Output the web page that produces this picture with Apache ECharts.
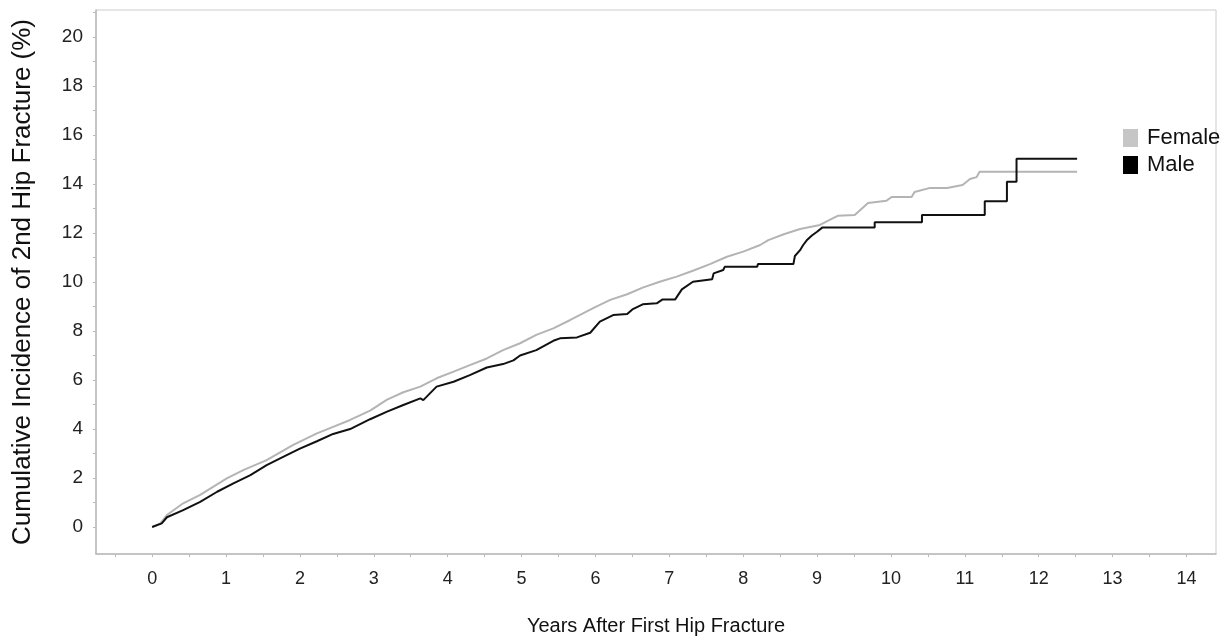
<!DOCTYPE html>
<html>
<head>
<meta charset="utf-8">
<script src="https://cdn.jsdelivr.net/npm/echarts@6/dist/echarts.min.js"></script>
<style>
  html, body { margin: 0; padding: 0; background: #fff; }
  #chart { width: 1228px; height: 641px; }
</style>
</head>
<body>
<div id="chart"></div>
<script>
// years after first fracture / cumulative incidence (%)
let femaleYears = [0, 0.11, 0.2, 0.42, 0.65, 1.01, 1.24, 1.55, 1.91, 2.23, 2.45, 2.68, 2.95, 3.18, 3.4, 3.63, 3.85, 4.08, 4.3, 4.53, 4.75, 4.98, 5.2, 5.43, 5.66, 5.97, 6.2, 6.43, 6.64, 6.87, 7.1, 7.32, 7.55, 7.78, 8.0, 8.23, 8.34, 8.55, 8.77, 9.04, 9.21, 9.28, 9.51, 9.69, 9.94, 10.01, 10.28, 10.32, 10.53, 10.76, 10.77, 10.97, 11.07, 11.16, 11.2, 12.52];
let femaleIncidence = [0, 0.15, 0.49, 0.97, 1.31, 1.99, 2.33, 2.73, 3.35, 3.82, 4.09, 4.37, 4.75, 5.2, 5.5, 5.73, 6.07, 6.34, 6.61, 6.88, 7.22, 7.5, 7.84, 8.11, 8.45, 8.93, 9.27, 9.5, 9.77, 10.01, 10.22, 10.46, 10.73, 11.03, 11.24, 11.51, 11.71, 11.95, 12.16, 12.33, 12.6, 12.7, 12.73, 13.22, 13.32, 13.47, 13.47, 13.67, 13.84, 13.84, 13.92, 13.96, 14.2, 14.28, 14.5, 14.5];

let maleYears = [0, 0.13, 0.2, 0.42, 0.65, 0.88, 1.1, 1.33, 1.55, 1.78, 2.0, 2.23, 2.45, 2.68, 2.95, 3.18, 3.4, 3.63, 3.67, 3.85, 4.08, 4.3, 4.53, 4.75, 4.89, 4.98, 5.2, 5.43, 5.52, 5.75, 5.93, 6.06, 6.24, 6.43, 6.5, 6.64, 6.83, 6.91, 7.08, 7.17, 7.32, 7.58, 7.6, 7.73, 7.75, 8.19, 8.2, 8.68, 8.7, 8.77, 8.81, 8.86, 8.93, 9.0, 9.07, 9.78, 9.78, 10.42, 10.42, 11.27, 11.27, 11.57, 11.57, 11.7, 11.7, 12.52];
let maleIncidence = [0, 0.15, 0.4, 0.69, 1.03, 1.44, 1.78, 2.12, 2.53, 2.87, 3.2, 3.5, 3.8, 4.0, 4.4, 4.71, 4.98, 5.25, 5.18, 5.73, 5.93, 6.2, 6.51, 6.65, 6.8, 7.0, 7.22, 7.6, 7.7, 7.74, 7.93, 8.38, 8.65, 8.69, 8.88, 9.09, 9.13, 9.29, 9.29, 9.7, 10.01, 10.11, 10.35, 10.49, 10.62, 10.62, 10.73, 10.73, 11.06, 11.3, 11.5, 11.7, 11.9, 12.05, 12.22, 12.22, 12.44, 12.44, 12.73, 12.73, 13.3, 13.3, 14.09, 14.09, 15.03, 15.03];

let xTicks = [0, 1, 2, 3, 4, 5, 6, 7, 8, 9, 10, 11, 12, 13, 14];
let yTicks = [0, 2, 4, 6, 8, 10, 12, 14, 16, 18, 20];

let xMinor = [];
for (let i = -0.5; i <= 14; i += 0.5) xMinor.push(i);
let yMinor = [];
for (let i = 0; i <= 21; i++) yMinor.push(i);

function pairs(xs, ys) {
  return xs.map((x, i) => [x, ys[i]]);
}

let font = "'Liberation Sans', Arial, sans-serif";

let option = {
  animation: false,
  grid: {
    left: 96,
    top: 10,
    right: 12,
    bottom: 87,
    show: true,
    borderColor: "#cccccc",
    borderWidth: 1
  },
  legend: {
    orient: "vertical",
    left: 1118,
    top: 122,
    itemWidth: 15,
    itemHeight: 18,
    itemGap: 5,
    icon: "rect",
    textStyle: {
      fontFamily: font,
      fontSize: 22,
      color: "#111",
      padding: [0, 0, 0, 4]
    },
    data: [
      { name: "Female", itemStyle: { color: "#c6c6c6" } },
      { name: "Male", itemStyle: { color: "#000" } }
    ]
  },
  xAxis: {
    type: "value",
    min: -0.76,
    max: 14.4,
    name: "Years After First Hip Fracture",
    nameLocation: "middle",
    nameGap: 62,
    nameTextStyle: { fontFamily: font, fontSize: 20, color: "#111" },
    axisLine: { onZero: false, lineStyle: { color: "#bbbbbb", width: 1.5 } },
    axisTick: { customValues: xMinor, length: 3, lineStyle: { color: "#bbbbbb" } },
    axisLabel: {
      customValues: xTicks,
      margin: 16,
      fontFamily: font,
      fontSize: 18,
      color: "#222"
    },
    splitLine: { show: false }
  },
  yAxis: {
    type: "value",
    min: -1.1,
    max: 21.1,
    name: "Cumulative Incidence of 2nd Hip Fracture (%)",
    nameLocation: "middle",
    nameGap: 60,
    nameTextStyle: { fontFamily: font, fontSize: 26, color: "#111" },
    axisLine: { show: true, onZero: false, lineStyle: { color: "#bbbbbb", width: 1.5 } },
    axisTick: { show: true, customValues: yMinor, length: 3, lineStyle: { color: "#bbbbbb" } },
    axisLabel: {
      customValues: yTicks,
      margin: 13,
      fontFamily: font,
      fontSize: 19,
      color: "#222"
    },
    splitLine: { show: false }
  },
  series: [
    {
      name: "Female",
      type: "line",
      showSymbol: false,
      itemStyle: { color: "#c6c6c6" },
      lineStyle: { color: "#b4b4b4", width: 2 },
      data: pairs(femaleYears, femaleIncidence)
    },
    {
      name: "Male",
      type: "line",
      showSymbol: false,
      itemStyle: { color: "#000" },
      lineStyle: { color: "#111", width: 2 },
      data: pairs(maleYears, maleIncidence)
    }
  ]
};

let chart = echarts.init(document.getElementById("chart"));
chart.setOption(option);
</script>
</body>
</html>
